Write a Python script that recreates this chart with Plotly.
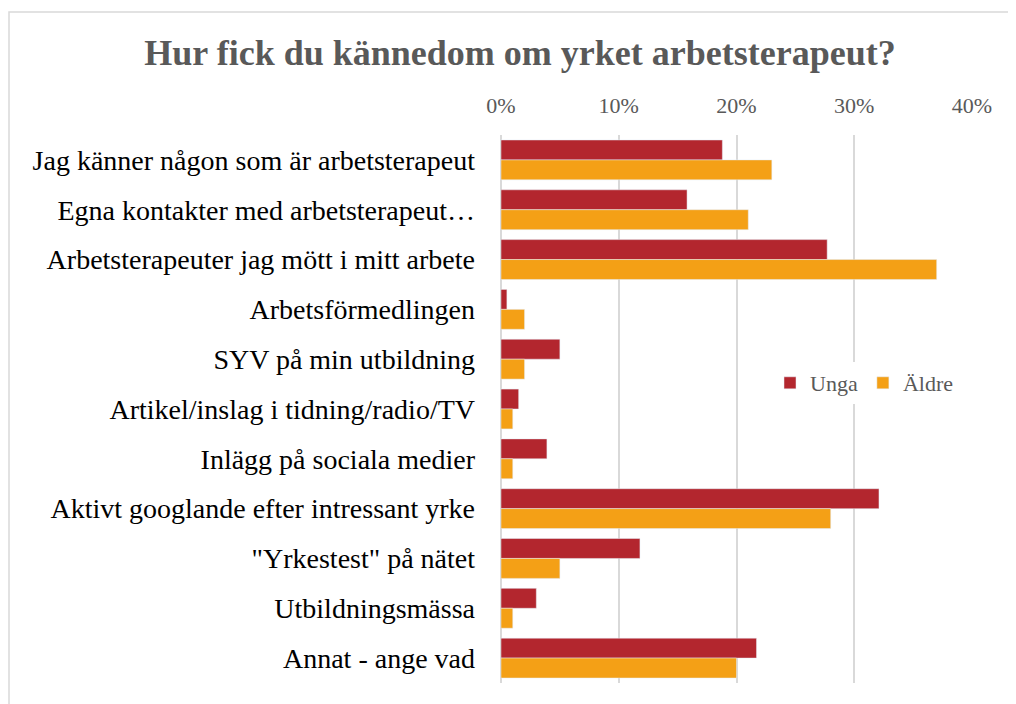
import plotly.graph_objects as go

categories = [
    "Jag känner någon som är arbetsterapeut",
    "Egna kontakter med arbetsterapeut…",
    "Arbetsterapeuter jag mött i mitt arbete",
    "Arbetsförmedlingen",
    "SYV på min utbildning",
    "Artikel/inslag i tidning/radio/TV",
    "Inlägg på sociala medier",
    "Aktivt googlande efter intressant yrke",
    "\"Yrkestest\" på nätet",
    "Utbildningsmässa",
    "Annat - ange vad",
]
unga = [0.188, 0.158, 0.277, 0.005, 0.05, 0.015, 0.039, 0.321, 0.118, 0.03, 0.217]
aldre = [0.23, 0.21, 0.37, 0.02, 0.02, 0.01, 0.01, 0.28, 0.05, 0.01, 0.20]

SERIF = "Liberation Serif"
# page body has an 8px margin, so the figure is 8px smaller and offsets shift by 8
OFF = 8
W, H = 1016 - OFF, 704 - OFF
L, R, T, B = 501 - OFF, 44, 135 - OFF, 21
pw, ph = W - L - R, H - T - B


def px_x(x):
    return (x - OFF - L) / pw


def px_y(y):
    return (H - B - (y - OFF)) / ph


fig = go.Figure()
fig.add_trace(go.Bar(y=categories, x=unga, name="Unga", orientation="h",
                     marker=dict(color="#B3262E")))
fig.add_trace(go.Bar(y=categories, x=aldre, name="Äldre", orientation="h",
                     marker=dict(color="#F4A016")))

# light chart frame
fig.add_shape(type="rect", xref="paper", yref="paper",
              x0=px_x(9), x1=px_x(1040), y0=px_y(740), y1=px_y(12),
              line=dict(color="#d9d9d9", width=1.5), layer="below")

fig.update_layout(
    width=W, height=H,
    margin=dict(l=L, r=R, t=T, b=B, autoexpand=False),
    paper_bgcolor="white", plot_bgcolor="white",
    barmode="group", bargap=0.2, bargroupgap=0,
    title=dict(text="<b>Hur fick du kännedom om yrket arbetsterapeut?</b>",
               x=(520 - OFF) / W, xref="container", xanchor="center",
               y=1 - (52 - OFF) / H, yref="container", yanchor="middle",
               font=dict(family=SERIF, size=36, color="#595959")),
    font=dict(family=SERIF),
    legend=dict(orientation="h", x=px_x(770), y=px_y(383),
                xanchor="left", yanchor="middle",
                bgcolor="white", font=dict(size=22, color="#595959"),
                itemwidth=30, traceorder="normal"),
    xaxis=dict(side="top", range=[0, 0.40], dtick=0.1, tickformat=".0%",
               showgrid=True, gridcolor="#d9d9d9", gridwidth=1.5,
               zeroline=True, zerolinecolor="#d9d9d9", zerolinewidth=1.5,
               tickfont=dict(size=22, color="#595959"), ticks="",
               ticklabelstandoff=17, automargin=False, fixedrange=True),
    yaxis=dict(autorange="reversed", showgrid=False, ticks="",
               tickfont=dict(size=28, color="black"),
               ticklabelstandoff=25, automargin=False),
)

fig.write_html("out.html")
